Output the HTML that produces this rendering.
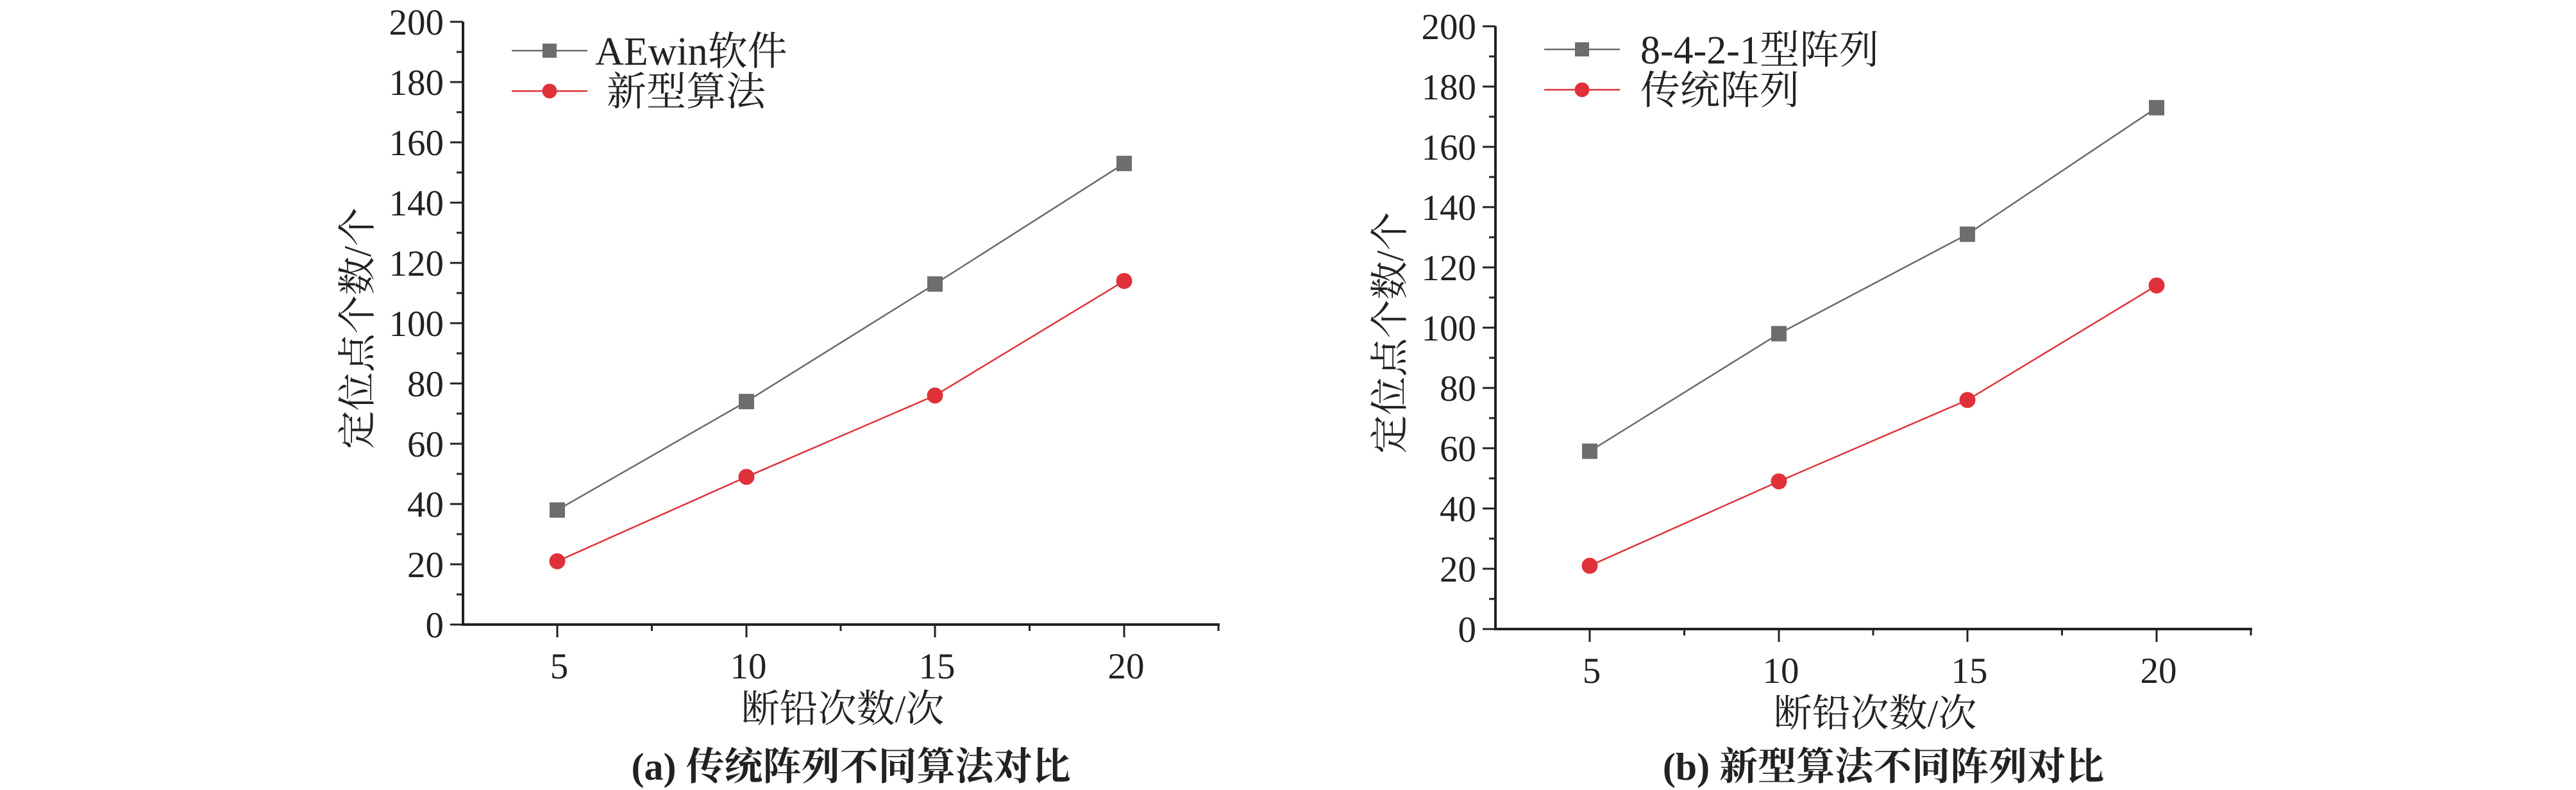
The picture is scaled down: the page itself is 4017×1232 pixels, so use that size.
<!DOCTYPE html>
<html><head><meta charset="utf-8"><style>
html,body{margin:0;padding:0;background:#fff;}
svg{display:block;}
text{font-family:"Liberation Serif","Noto Serif CJK SC",serif;fill:#222;}
</style></head><body>
<svg width="4017" height="1232" viewBox="0 0 4017 1232" xmlns="http://www.w3.org/2000/svg">
<defs>
<g id="axes" stroke="#222" fill="none">
  <path d="M0,-940 V0 H1180" stroke-width="4"/>
  <path stroke-width="3" d="M-20,0H0M-20,-94H0M-20,-188H0M-20,-282H0M-20,-376H0M-20,-470H0M-20,-564H0M-20,-658H0M-20,-752H0M-20,-846H0M-20,-940H0
  M-10,-47H0M-10,-141H0M-10,-235H0M-10,-329H0M-10,-423H0M-10,-517H0M-10,-611H0M-10,-705H0M-10,-799H0M-10,-893H0
  M147,0V20M442,0V20M736,0V20M1031,0V20M294.5,0V10M589,0V10M883.5,0V10M1178,0V10"/>
</g>
<g id="ylab" font-size="57" text-anchor="end">
  <text x="-30" y="20">0</text><text x="-30" y="-74">20</text><text x="-30" y="-168">40</text>
  <text x="-30" y="-262">60</text><text x="-30" y="-356">80</text><text x="-30" y="-450">100</text>
  <text x="-30" y="-544">120</text><text x="-30" y="-638">140</text><text x="-30" y="-732">160</text>
  <text x="-30" y="-826">180</text><text x="-30" y="-920">200</text>
</g>
<g id="xlab" font-size="57" text-anchor="middle">
  <text x="150" y="84">5</text><text x="445" y="84">10</text><text x="739" y="84">15</text><text x="1034" y="84">20</text>
  <text x="592" y="152" font-size="60">断铅次数/次</text>
  <text x="-164" y="-462" font-size="60" transform="rotate(-90 -164 -462)" dominant-baseline="central" text-anchor="middle">定位点个数/个</text>
</g>
</defs>

<g transform="translate(722,974)">
  <use href="#axes"/><use href="#ylab"/><use href="#xlab"/>
  <polyline points="147,-178.6 442,-347.8 736,-531.1 1031,-719.1" fill="none" stroke="#6a6a6a" stroke-width="2.5"/>
  <polyline points="147,-98.7 442,-230.3 736,-357.2 1031,-535.8" fill="none" stroke="#e0313a" stroke-width="2.5"/>
  <g fill="#6d6d6d"><rect x="135" y="-190.6" width="24" height="24"/><rect x="430" y="-359.8" width="24" height="24"/><rect x="724" y="-543.1" width="24" height="24"/><rect x="1019" y="-731.1" width="24" height="24"/></g>
  <g fill="#e0313a"><circle cx="147" cy="-98.7" r="12.5"/><circle cx="442" cy="-230.3" r="12.5"/><circle cx="736" cy="-357.2" r="12.5"/><circle cx="1031" cy="-535.8" r="12.5"/></g>
  <line x1="76" y1="-895" x2="194" y2="-895" stroke="#6a6a6a" stroke-width="2.5"/>
  <rect x="124" y="-906" width="22" height="22" fill="#6d6d6d"/>
  <line x1="76" y1="-832" x2="194" y2="-832" stroke="#e0313a" stroke-width="2.5"/>
  <circle cx="135" cy="-832" r="11.5" fill="#e0313a"/>
  <text x="206" y="-873" font-size="62">AEwin软件</text>
  <text x="224" y="-810" font-size="62">新型算法</text>
  <text x="605" y="242" font-size="60" font-weight="bold" text-anchor="middle">(a) 传统阵列不同算法对比</text>
</g>

<g transform="translate(2332,981)">
  <use href="#axes"/><use href="#ylab"/><use href="#xlab"/>
  <polyline points="147,-277.3 442,-460.6 736,-615.7 1031,-813.1" fill="none" stroke="#6a6a6a" stroke-width="2.5"/>
  <polyline points="147,-98.7 442,-230.3 736,-357.2 1031,-535.8" fill="none" stroke="#e0313a" stroke-width="2.5"/>
  <g fill="#6d6d6d"><rect x="135" y="-289.3" width="24" height="24"/><rect x="430" y="-472.6" width="24" height="24"/><rect x="724" y="-627.7" width="24" height="24"/><rect x="1019" y="-825.1" width="24" height="24"/></g>
  <g fill="#e0313a"><circle cx="147" cy="-98.7" r="12.5"/><circle cx="442" cy="-230.3" r="12.5"/><circle cx="736" cy="-357.2" r="12.5"/><circle cx="1031" cy="-535.8" r="12.5"/></g>
  <line x1="76" y1="-904" x2="194" y2="-904" stroke="#6a6a6a" stroke-width="2.5"/>
  <rect x="124" y="-915" width="22" height="22" fill="#6d6d6d"/>
  <line x1="76" y1="-841" x2="194" y2="-841" stroke="#e0313a" stroke-width="2.5"/>
  <circle cx="135" cy="-841" r="11.5" fill="#e0313a"/>
  <text x="226" y="-882" font-size="62">8-4-2-1型阵列</text>
  <text x="226" y="-819" font-size="62">传统阵列</text>
  <text x="605" y="235" font-size="60" font-weight="bold" text-anchor="middle">(b) 新型算法不同阵列对比</text>
</g>
</svg>
</body></html>
